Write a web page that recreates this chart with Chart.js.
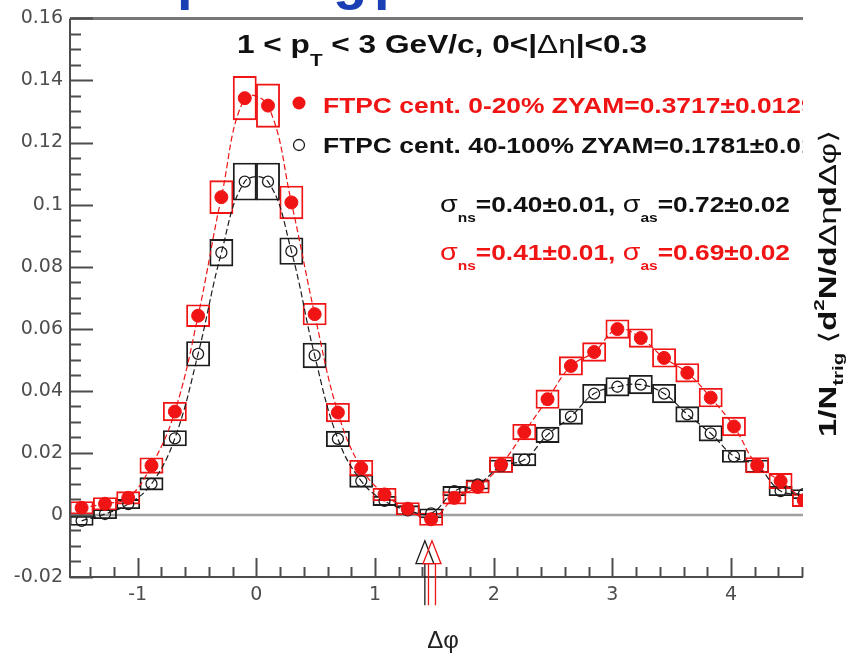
<!DOCTYPE html>
<html>
<head>
<meta charset="utf-8">
<script src="https://cdn.jsdelivr.net/npm/chart.js@4.4.1/dist/chart.umd.min.js"></script>
<style>
  html, body { margin: 0; padding: 0; background: #ffffff; }
  canvas { display: block; }
</style>
</head>
<body>
<canvas id="c" width="853" height="658"></canvas>
<script>
// Δφ bin centres (32 bins of π/16 from -π/2)
const phiBins = [-1.473, -1.276, -1.080, -0.884, -0.687, -0.491, -0.295, -0.098,
                  0.098,  0.295,  0.491,  0.687,  0.884,  1.080,  1.276,  1.473,
                  1.669,  1.865,  2.062,  2.258,  2.454,  2.651,  2.847,  3.043,
                  3.240,  3.436,  3.632,  3.829,  4.025,  4.221,  4.418,  4.614];

// FTPC cent. 0-20%
const central = [0.0023, 0.0036, 0.0055, 0.0159, 0.0333, 0.0642, 0.1024, 0.1343,
                 0.1319, 0.1007, 0.0647, 0.0330, 0.0151, 0.0066, 0.0020, -0.0014,
                 0.0055, 0.0090, 0.0162, 0.0267, 0.0373, 0.0480, 0.0525, 0.0599,
                 0.0570, 0.0506, 0.0458, 0.0378, 0.0285, 0.0160, 0.0109, 0.0047];
const centralSys = [0.0020, 0.0020, 0.0020, 0.0025, 0.0030, 0.0035, 0.0053, 0.0070,
                    0.0070, 0.0053, 0.0035, 0.0030, 0.0025, 0.0020, 0.0020, 0.0020,
                    0.0020, 0.0020, 0.0025, 0.0025, 0.0030, 0.0030, 0.0030, 0.0030,
                    0.0030, 0.0030, 0.0030, 0.0030, 0.0030, 0.0025, 0.0025, 0.0020];

// FTPC cent. 40-100%
const peripheral = [-0.0019, 0.0003, 0.0035, 0.0100, 0.0247, 0.0519, 0.0845, 0.1074,
                     0.1074, 0.0850, 0.0514, 0.0245, 0.0109, 0.0045, 0.0015, 0.0005,
                     0.0077, 0.0098, 0.0157, 0.0178, 0.0258, 0.0317, 0.0391, 0.0413,
                     0.0420, 0.0391, 0.0324, 0.0263, 0.0189, 0.0157, 0.0077, 0.0067];
const peripheralSys = [0.0015, 0.0015, 0.0015, 0.0020, 0.0025, 0.0040, 0.0043, 0.0060,
                       0.0060, 0.0043, 0.0040, 0.0025, 0.0020, 0.0015, 0.0015, 0.0015,
                       0.0015, 0.0015, 0.0020, 0.0020, 0.0025, 0.0025, 0.0030, 0.0030,
                       0.0030, 0.0030, 0.0025, 0.0025, 0.0020, 0.0020, 0.0015, 0.0015];

// ZYAM normalisation points (peripheral, central)
const zyamPhi = [1.42, 1.48];

const xRange = [-1.5708, 4.607];
const yRange = [-0.02, 0.16];
const xTickValues = [-1, 0, 1, 2, 3, 4];
const xTickLabels = ['-1', '0', '1', '2', '3', '4'];
const yTickValues = [-0.02, 0, 0.02, 0.04, 0.06, 0.08, 0.1, 0.12, 0.14, 0.16];
const yTickLabels = ['-0.02', '0', '0.02', '0.04', '0.06', '0.08', '0.1', '0.12', '0.14', '0.16'];

const RED = '#f01414';
const BLACK = '#1c1c1c';
const AXIS = '#4d4d4d';

const points = vals => phiBins.map((x, i) => ({ x, y: vals[i] }));
const boxes = (vals, errs) => phiBins.map((x, i) => ({ x, y: [vals[i] - errs[i], vals[i] + errs[i]] }));

const B = n => `bold ${n}px "Liberation Sans", Arial, "DejaVu Sans", sans-serif`;
const N = n => `${n}px "Liberation Sans", Arial, "DejaVu Sans", sans-serif`;

function richWidth(ctx, parts) {
  let w = 0;
  for (const p of parts) { ctx.font = p.f; w += ctx.measureText(p.t).width; }
  return w;
}
function drawRich(ctx, parts, color, sx) {
  let cx = 0;
  ctx.save();
  ctx.scale(sx, 1);
  ctx.textBaseline = 'alphabetic';
  ctx.textAlign = 'left';
  for (const p of parts) {
    ctx.font = p.f;
    ctx.fillStyle = p.c || color;
    ctx.fillText(p.t, cx, p.dy || 0);
    cx += ctx.measureText(p.t).width;
  }
  ctx.restore();
}
// horizontal text starting at (x, y) stretched to the given width
function textFit(ctx, parts, color, x, y, width) {
  ctx.save();
  ctx.translate(x, y);
  drawRich(ctx, parts, color, width / richWidth(ctx, parts));
  ctx.restore();
}
function textScaled(ctx, parts, color, x, y, sx) {
  ctx.save();
  ctx.translate(x, y);
  drawRich(ctx, parts, color, sx);
  ctx.restore();
}

const decorations = {
  id: 'decorations',
  beforeDatasetsDraw(chart) {
    const { ctx, chartArea: a, scales: { y } } = chart;
    const y0 = y.getPixelForValue(0);
    ctx.save();
    ctx.strokeStyle = '#a0a0a0';
    ctx.lineWidth = 2.5;
    ctx.beginPath();
    ctx.moveTo(a.left, y0);
    ctx.lineTo(a.right, y0);
    ctx.stroke();
    ctx.restore();
  },
  afterDraw(chart) {
    const { ctx, chartArea: a, scales: { x, y } } = chart;
    ctx.save();

    // frame: top, left and bottom edges
    ctx.strokeStyle = '#777777';
    ctx.lineWidth = 3;
    ctx.beginPath(); ctx.moveTo(a.left, a.top); ctx.lineTo(a.right, a.top); ctx.stroke();
    ctx.strokeStyle = AXIS;
    ctx.lineWidth = 2;
    ctx.beginPath();
    ctx.moveTo(a.left, a.top); ctx.lineTo(a.left, a.bottom); ctx.lineTo(a.right, a.bottom);
    ctx.stroke();

    // inward ticks on the y axis
    ctx.lineWidth = 2;
    for (let v = yRange[0]; v <= yRange[1] + 1e-9; v += 0.005) {
      const major = yTickValues.some(t => Math.abs(t - v) < 1e-6);
      const py = Math.round(y.getPixelForValue(v)) + 0.5;
      ctx.beginPath();
      ctx.moveTo(a.left, py);
      ctx.lineTo(a.left + (major ? 23 : 11), py);
      ctx.stroke();
    }
    // inward ticks on the x axis
    for (let v = -1.4; v <= xRange[1] + 1e-9; v += 0.2) {
      const major = xTickValues.some(t => Math.abs(t - v) < 1e-6);
      const px = Math.round(x.getPixelForValue(v)) + 0.5;
      ctx.beginPath();
      ctx.moveTo(px, a.bottom);
      ctx.lineTo(px, a.bottom - (major ? 19 : 10));
      ctx.stroke();
    }

    // ZYAM arrows below the zero line
    const tipY = y.getPixelForValue(-0.0083);
    const baseY = y.getPixelForValue(-0.0157);
    const endY = y.getPixelForValue(-0.0291);
    [[zyamPhi[0], BLACK, false], [zyamPhi[1], RED, true]].forEach(([phi, col, dbl]) => {
      const px = x.getPixelForValue(phi);
      ctx.strokeStyle = col;
      ctx.lineWidth = 1.3;
      ctx.beginPath();
      ctx.moveTo(px - 9, baseY); ctx.lineTo(px, tipY); ctx.lineTo(px + 9, baseY); ctx.closePath();
      ctx.stroke();
      ctx.beginPath();
      if (dbl) {
        ctx.moveTo(px - 3.5, baseY); ctx.lineTo(px - 3.5, endY);
        ctx.moveTo(px + 3.5, baseY); ctx.lineTo(px + 3.5, endY);
      } else {
        ctx.moveTo(px, baseY); ctx.lineTo(px, endY);
      }
      ctx.stroke();
    });

    // cut-off heading above the frame
    ctx.fillStyle = '#1a3fb4';
    ctx.font = B(56);
    ctx.textBaseline = 'alphabetic';
    ctx.fillText('p', 177, -2);
    ctx.fillText('g', 333, -2);
    ctx.fillText('p', 374, -2);

    // title
    textFit(ctx, [
      { t: '1 < p', f: B(26) },
      { t: 'T', f: B(17), dy: 13 },
      { t: ' < 3 GeV/c, 0<|', f: B(26) },
      { t: 'Δη', f: N(26) },
      { t: '|<0.3', f: B(26) }
    ], '#111111', 237, 53, 410);

    // legend (clipped at the frame's right edge)
    ctx.save();
    ctx.beginPath();
    ctx.rect(0, 0, a.right, chart.height);
    ctx.clip();
    ctx.fillStyle = RED;
    ctx.beginPath(); ctx.arc(299, 103, 6.5, 0, Math.PI * 2); ctx.fill();
    ctx.strokeStyle = BLACK; ctx.lineWidth = 1.3;
    ctx.beginPath(); ctx.arc(299, 145, 5.5, 0, Math.PI * 2); ctx.stroke();
    textScaled(ctx, [{ t: 'FTPC cent. 0-20% ZYAM=0.3717±0.0129', f: B(22) }], RED, 323, 113, 1.2);
    textScaled(ctx, [{ t: 'FTPC cent. 40-100% ZYAM=0.1781±0.01', f: B(22) }], '#111111', 323, 153, 1.2);
    ctx.restore();

    // width annotations
    const sigmaLine = (ns, as) => [
      { t: 'σ', f: N(24) }, { t: 'ns', f: B(13), dy: 10 },
      { t: '=' + ns + ', ', f: B(22) },
      { t: 'σ', f: N(24) }, { t: 'as', f: B(13), dy: 10 },
      { t: '=' + as, f: B(22) }
    ];
    textFit(ctx, sigmaLine('0.40±0.01', '0.72±0.02'), '#111111', 440, 212, 350);
    textFit(ctx, sigmaLine('0.41±0.01', '0.69±0.02'), RED, 440, 260, 350);

    // x axis title
    ctx.fillStyle = '#222222';
    ctx.font = N(24);
    ctx.textAlign = 'center';
    ctx.fillText('Δφ', 443, 648);

    // y axis title on the right, reading upwards
    const yTitle = [
      { t: '1/N', f: B(24) }, { t: 'trig', f: B(15), dy: 7 },
      { t: ' ', f: B(24) }, { t: '⟨', f: N(24) },
      { t: 'd', f: B(24) }, { t: '2', f: B(15), dy: -12 },
      { t: 'N/d', f: B(24) }, { t: 'Δη', f: N(24) },
      { t: 'd', f: B(24) }, { t: 'Δφ', f: N(24) }, { t: '⟩', f: N(24) }
    ];
    ctx.save();
    ctx.translate(836, 437);
    ctx.rotate(-Math.PI / 2);
    drawRich(ctx, yTitle, '#111111', 307 / richWidth(ctx, yTitle));
    ctx.restore();

    ctx.restore();
  }
};

new Chart(document.getElementById('c'), {
  type: 'bar',
  data: {
    datasets: [
      {
        type: 'line', data: points(central), order: 1,
        showLine: false, pointRadius: 6.5, pointStyle: 'circle',
        pointBackgroundColor: RED, pointBorderColor: RED, pointBorderWidth: 1
      },
      {
        type: 'line', data: points(peripheral), order: 2,
        showLine: false, pointRadius: 5.5, pointStyle: 'circle',
        pointBackgroundColor: 'rgba(255,255,255,0)', pointBorderColor: BLACK, pointBorderWidth: 1.3
      },
      {
        type: 'line', data: points(central), order: 3,
        borderColor: RED, borderWidth: 1.2, borderDash: [6, 3], tension: 0.4,
        pointRadius: 0, fill: false
      },
      {
        type: 'line', data: points(peripheral), order: 4,
        borderColor: BLACK, borderWidth: 1.2, borderDash: [6, 3], tension: 0.4,
        pointRadius: 0, fill: false
      },
      {
        type: 'bar', data: boxes(central, centralSys), order: 5,
        backgroundColor: 'rgba(0,0,0,0)', borderColor: RED, borderWidth: 1.2,
        borderSkipped: false, grouped: false, barPercentage: 1, categoryPercentage: 1
      },
      {
        type: 'bar', data: boxes(peripheral, peripheralSys), order: 6,
        backgroundColor: 'rgba(0,0,0,0)', borderColor: BLACK, borderWidth: 1.2,
        borderSkipped: false, grouped: false, barPercentage: 1, categoryPercentage: 1
      }
    ]
  },
  options: {
    responsive: false,
    devicePixelRatio: 1,
    animation: false,
    events: [],
    layout: { padding: { top: 14, right: 50, left: 0, bottom: 0 } },
    plugins: { legend: { display: false }, tooltip: { enabled: false } },
    scales: {
      x: {
        type: 'linear', min: xRange[0], max: xRange[1], offset: false,
        grid: { display: false, drawTicks: false },
        border: { display: false },
        afterBuildTicks: s => { s.ticks = xTickValues.map(v => ({ value: v })); },
        afterFit: s => { s.height = 81; },
        ticks: {
          autoSkip: false, maxRotation: 0, padding: 7, color: AXIS,
          font: { family: '"DejaVu Sans"', size: 19 },
          callback: v => xTickLabels[xTickValues.indexOf(v)]
        }
      },
      y: {
        type: 'linear', min: yRange[0], max: yRange[1],
        grid: { display: false, drawTicks: false },
        border: { display: false },
        afterBuildTicks: s => { s.ticks = yTickValues.map(v => ({ value: v })); },
        afterFit: s => { s.width = 70; },
        ticks: {
          autoSkip: false, padding: 7, color: AXIS,
          font: { family: '"DejaVu Sans"', size: 19 },
          callback: v => yTickLabels[yTickValues.indexOf(v)]
        }
      }
    }
  },
  plugins: [decorations]
});
</script>
</body>
</html>
